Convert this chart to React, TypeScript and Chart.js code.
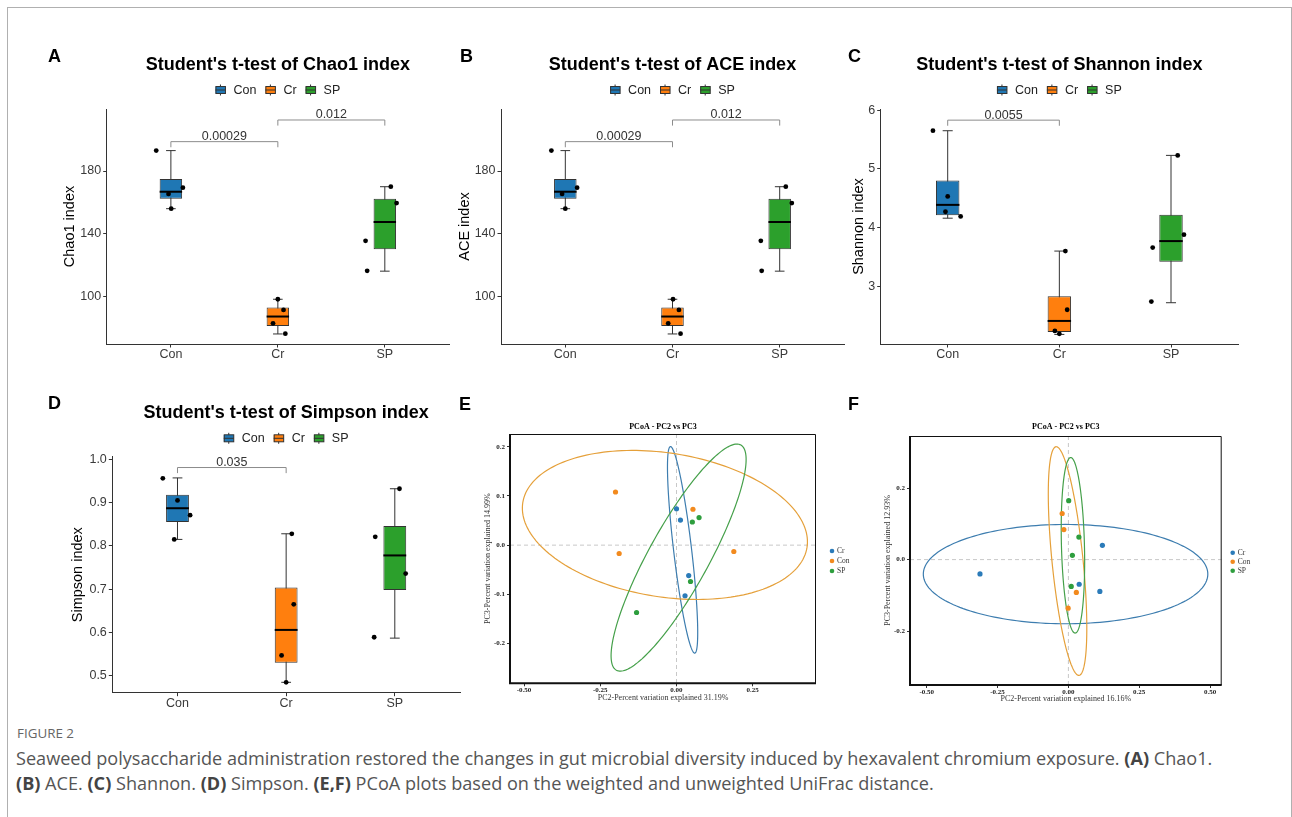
import React, { useEffect, useRef } from 'react';
import { Chart, registerables } from 'chart.js';

Chart.register(...registerables);

const SANS = '"Liberation Sans", Arial, Helvetica, sans-serif';
const SERIF = '"Liberation Serif", "Times New Roman", serif';

// ---------- Box-plot panels (A-D) ----------
const groupNames = ['Con', 'Cr', 'SP'];
const boxFills = ['#1F77B4', '#FF7F0E', '#2CA02C'];

// A: Chao1
const chaoQ1 = [162.4, 81.3, 130.2];
const chaoMedian = [166.8, 87.3, 147.5];
const chaoQ3 = [174.9, 93.0, 162.4];
const chaoLow = [156.0, 76.2, 116.2];
const chaoHigh = [193.0, 98.3, 170.0];
const chaoCon = [193.0, 165.4, 169.4, 156.0];
const chaoCr = [98.3, 91.5, 83.0, 76.4];
const chaoSP = [170.0, 159.6, 135.5, 116.4];
const chaoJitCon = [-0.137, -0.022, 0.112, 0.003];
const chaoJitCr = [0.0, 0.053, -0.045, 0.07];
const chaoJitSP = [0.056, 0.11, -0.18, -0.165];
const chaoTicks = [100, 140, 180];
const chaoRange = [69.8, 219.5];
const chaoPairs = [[0, 1], [1, 2]];
const chaoPairY = [198.7, 212.5];
const chaoPairLabels = ['0.00029', '0.012'];

// B: ACE
const aceQ1 = [162.4, 81.3, 130.2];
const aceMedian = [166.8, 87.3, 147.5];
const aceQ3 = [174.9, 93.0, 162.4];
const aceLow = [156.0, 76.2, 116.2];
const aceHigh = [193.0, 98.3, 170.0];
const aceCon = [193.0, 165.4, 169.4, 156.0];
const aceCr = [98.3, 91.5, 83.0, 76.4];
const aceSP = [170.0, 159.6, 135.5, 116.4];
const aceJitCon = [-0.13, -0.03, 0.11, 0.0];
const aceJitCr = [0.005, 0.06, -0.04, 0.075];
const aceJitSP = [0.057, 0.113, -0.176, -0.168];
const aceTicks = [100, 140, 180];
const aceRange = [69.8, 219.5];
const acePairs = [[0, 1], [1, 2]];
const acePairY = [198.7, 212.5];
const acePairLabels = ['0.00029', '0.012'];

// C: Shannon
const shanQ1 = [4.21, 2.22, 3.42];
const shanMedian = [4.387, 2.41, 3.77];
const shanQ3 = [4.8, 2.83, 4.22];
const shanLow = [4.16, 2.18, 2.72];
const shanHigh = [5.65, 3.6, 5.23];
const shanCon = [5.65, 4.53, 4.27, 4.19];
const shanCr = [3.6, 2.6, 2.24, 2.19];
const shanSP = [5.23, 3.88, 3.66, 2.74];
const shanJitCon = [-0.132, 0.0, -0.02, 0.116];
const shanJitCr = [0.054, 0.07, -0.04, 0.0];
const shanJitSP = [0.06, 0.116, -0.164, -0.176];
const shanTicks = [3, 4, 5, 6];
const shanRange = [2.017, 6.02];
const shanPairs = [[0, 1]];
const shanPairY = [5.83];
const shanPairLabels = ['0.0055'];

// D: Simpson
const simpQ1 = [0.855, 0.53, 0.698];
const simpMedian = [0.887, 0.606, 0.778];
const simpQ3 = [0.918, 0.704, 0.846];
const simpLow = [0.815, 0.485, 0.587];
const simpHigh = [0.957, 0.828, 0.932];
const simpCon = [0.956, 0.905, 0.871, 0.815];
const simpCr = [0.828, 0.665, 0.547, 0.485];
const simpSP = [0.932, 0.736, 0.821, 0.589];
const simpJitCon = [-0.135, 0.0, 0.116, -0.03];
const simpJitCr = [0.052, 0.07, -0.042, 0.0];
const simpJitSP = [0.043, 0.1, -0.18, -0.19];
const simpTicks = [0.5, 0.6, 0.7, 0.8, 0.9, 1.0];
const simpRange = [0.461, 1.006];
const simpPairs = [[0, 1]];
const simpPairY = [0.981];
const simpPairLabels = ['0.035'];

// ---------- PCoA panels (E, F) ----------
const pcoaGroups = ['Cr', 'Con', 'SP'];
const pcoaPointColors = ['#2B7BB9', '#F28A1E', '#2E9E3E'];
const pcoaRingColors = ['#3D7DAF', '#E5A03A', '#45A04A'];

// E
const eCrX = [0.0, 0.013, 0.04, 0.028];
const eCrY = [0.074, 0.051, -0.062, -0.103];
const eConX = [-0.2, -0.188, 0.054, 0.188];
const eConY = [0.108, -0.017, 0.073, -0.013];
const eSpX = [0.052, 0.074, 0.046, -0.131];
const eSpY = [0.047, 0.056, -0.074, -0.137];
const eEllCx = [0.02, -0.038, 0.0069];
const eEllCy = [-0.0096, 0.041, -0.0254];
const eEllUx = [-0.04, 0.466, 0.204];
const eEllUy = [0.21, -0.0457, 0.229];
const eEllVx = [0.0293, 0.0368, 0.0861];
const eEllVy = [0.00215, 0.1445, -0.0295];
const eXTicks = [-0.5, -0.25, 0, 0.25];
const eYTicks = [-0.2, -0.1, 0, 0.1, 0.2];
const eXRange = [-0.546, 0.4575];
const eYRange = [-0.281, 0.226];

// F
const fCrX = [-0.312, 0.12, 0.111, 0.038];
const fCrY = [-0.04, 0.04, -0.089, -0.069];
const fConX = [-0.022, -0.016, 0.028, -0.001];
const fConY = [0.129, 0.084, -0.092, -0.136];
const fSpX = [0.001, 0.037, 0.014, 0.01];
const fSpY = [0.165, 0.063, 0.012, -0.075];
const fEllCx = [-0.01, -0.003, 0.016];
const fEllCy = [-0.0406, -0.004, 0.04];
const fEllUx = [0.502, -0.0406, -0.0078];
const fEllUy = [0.0, 0.32, 0.2457];
const fEllVx = [0.0, 0.0545, 0.0406];
const fEllVy = [0.139, 0.00434, 0.0];
const fXTicks = [-0.5, -0.25, 0, 0.25, 0.5];
const fYTicks = [-0.2, 0, 0.2];
const fXRange = [-0.559, 0.541];
const fYRange = [-0.351, 0.346];

// ---------- Specs ----------
const boxSpecs: any[] = [
  {
    letter: 'A', title: "Student's t-test of Chao1 index", yTitle: 'Chao1 index',
    q1: chaoQ1, med: chaoMedian, q3: chaoQ3, lo: chaoLow, hi: chaoHigh,
    pts: [chaoCon, chaoCr, chaoSP], jit: [chaoJitCon, chaoJitCr, chaoJitSP],
    ticks: chaoTicks, range: chaoRange, pairs: chaoPairs, pairY: chaoPairY, pairLabels: chaoPairLabels,
    fmt: (v: number) => String(v),
  },
  {
    letter: 'B', title: "Student's t-test of ACE index", yTitle: 'ACE index',
    q1: aceQ1, med: aceMedian, q3: aceQ3, lo: aceLow, hi: aceHigh,
    pts: [aceCon, aceCr, aceSP], jit: [aceJitCon, aceJitCr, aceJitSP],
    ticks: aceTicks, range: aceRange, pairs: acePairs, pairY: acePairY, pairLabels: acePairLabels,
    fmt: (v: number) => String(v),
  },
  {
    letter: 'C', title: "Student's t-test of Shannon index", yTitle: 'Shannon index',
    q1: shanQ1, med: shanMedian, q3: shanQ3, lo: shanLow, hi: shanHigh,
    pts: [shanCon, shanCr, shanSP], jit: [shanJitCon, shanJitCr, shanJitSP],
    ticks: shanTicks, range: shanRange, pairs: shanPairs, pairY: shanPairY, pairLabels: shanPairLabels,
    fmt: (v: number) => String(v),
  },
  {
    letter: 'D', title: "Student's t-test of Simpson index", yTitle: 'Simpson index',
    q1: simpQ1, med: simpMedian, q3: simpQ3, lo: simpLow, hi: simpHigh,
    pts: [simpCon, simpCr, simpSP], jit: [simpJitCon, simpJitCr, simpJitSP],
    ticks: simpTicks, range: simpRange, pairs: simpPairs, pairY: simpPairY, pairLabels: simpPairLabels,
    fmt: (v: number) => v.toFixed(1),
  },
];

const boxLayouts = [
  { x: 30, y: 40, w: 430, h: 340, axisW: 76.7, axisH: 36, padTop: 69, padRight: 11, yTitlePad: 31.3, letterX: 18, letterY: 17, titleY: 25, legendY: 50 },
  { x: 440, y: 40, w: 420, h: 340, axisW: 61, axisH: 36, padTop: 69, padRight: 16, yTitlePad: 16.3, letterX: 20, letterY: 17, titleY: 25, legendY: 50 },
  { x: 840, y: 40, w: 420, h: 340, axisW: 40.7, axisH: 36, padTop: 69, padRight: 22, yTitlePad: 10.3, letterX: 8, letterY: 17, titleY: 25, legendY: 50 },
  { x: 30, y: 390, w: 440, h: 325, axisW: 82.3, axisH: 22.3, padTop: 66.7, padRight: 10, yTitlePad: 39, letterX: 18, letterY: 14, titleY: 22.7, legendY: 48.3 },
];

const pcoaSpecs: any[] = [
  {
    letter: 'E', xs: [eCrX, eConX, eSpX], ys: [eCrY, eConY, eSpY],
    ell: { cx: eEllCx, cy: eEllCy, ux: eEllUx, uy: eEllUy, vx: eEllVx, vy: eEllVy },
    xTicks: eXTicks, yTicks: eYTicks, xRange: eXRange, yRange: eYRange,
    xTitle: 'PC2-Percent variation explained 31.19%', yTitle: 'PC3-Percent variation explained 14.99%',
  },
  {
    letter: 'F', xs: [fCrX, fConX, fSpX], ys: [fCrY, fConY, fSpY],
    ell: { cx: fEllCx, cy: fEllCy, ux: fEllUx, uy: fEllUy, vx: fEllVx, vy: fEllVy },
    xTicks: fXTicks, yTicks: fYTicks, xRange: fXRange, yRange: fYRange,
    xTitle: 'PC2-Percent variation explained 16.16%', yTitle: 'PC3-Percent variation explained 12.93%',
  },
];

const pcoaLayouts = [
  { x: 455, y: 395, w: 405, h: 318, axisW: 55, axisH: 29.7, padTop: 39, padRight: 44, yTitlePad: 28.2, xTitlePad: 10.5, letterX: 4, letterY: 10, titleY: 32.3, legendX: 377, legendY: [156, 166, 176] },
  { x: 845, y: 395, w: 447, h: 318, axisW: 65, axisH: 28, padTop: 41, padRight: 70.3, yTitlePad: 38.2, xTitlePad: 9.2, letterX: 3, letterY: 10, titleY: 32.3, legendX: 387.7, legendY: [157.7, 166.7, 175.7] },
];

// ---------- Box chart ----------
function BoxChart({ spec, lay }: { spec: any; lay: any }) {
  const ref = useRef<HTMLCanvasElement>(null);
  useEffect(() => {
    const canvas = ref.current!;
    const points: any[] = [];
    spec.pts.forEach((arr: number[], gi: number) => {
      arr.forEach((v: number, k: number) => points.push({ x: gi + spec.jit[gi][k], y: v }));
    });

    const extras = {
      id: 'boxExtras' + spec.letter,
      beforeDatasetsDraw(chart: any) {
        const { ctx } = chart;
        const xs = chart.scales.x, ys = chart.scales.y;
        ctx.save();
        ctx.strokeStyle = '#333';
        ctx.lineWidth = 1;
        spec.lo.forEach((lo: number, i: number) => {
          const px = xs.getPixelForValue(i);
          const yl = ys.getPixelForValue(lo), yh = ys.getPixelForValue(spec.hi[i]);
          const c0 = xs.getPixelForValue(i - 0.045), c1 = xs.getPixelForValue(i + 0.045);
          ctx.beginPath();
          ctx.moveTo(px, yl); ctx.lineTo(px, yh);
          ctx.moveTo(c0, yl); ctx.lineTo(c1, yl);
          ctx.moveTo(c0, yh); ctx.lineTo(c1, yh);
          ctx.stroke();
        });
        ctx.restore();
      },
      afterDatasetDraw(chart: any, args: any) {
        if (args.index !== 0) return;
        const { ctx } = chart;
        const ys = chart.scales.y;
        const meta = chart.getDatasetMeta(0);
        ctx.save();
        ctx.strokeStyle = '#000';
        ctx.lineWidth = 2;
        meta.data.forEach((el: any, i: number) => {
          const y = ys.getPixelForValue(spec.med[i]);
          ctx.beginPath();
          ctx.moveTo(el.x - el.width / 2, y);
          ctx.lineTo(el.x + el.width / 2, y);
          ctx.stroke();
        });
        ctx.restore();
      },
      afterDraw(chart: any) {
        const { ctx, chartArea } = chart;
        const xs = chart.scales.x, ys = chart.scales.y;
        ctx.save();
        // brackets
        const drop = (ys.getValueForPixel(0) - ys.getValueForPixel(5.6));
        spec.pairs.forEach((p: number[], k: number) => {
          const x0 = xs.getPixelForValue(p[0]), x1 = xs.getPixelForValue(p[1]);
          const y = ys.getPixelForValue(spec.pairY[k]);
          const yd = ys.getPixelForValue(spec.pairY[k] - drop);
          ctx.strokeStyle = '#8C8C8C';
          ctx.lineWidth = 1;
          ctx.beginPath();
          ctx.moveTo(x0, yd); ctx.lineTo(x0, y); ctx.lineTo(x1, y); ctx.lineTo(x1, yd);
          ctx.stroke();
          ctx.fillStyle = '#333';
          ctx.font = `12.5px ${SANS}`;
          ctx.textAlign = 'center';
          ctx.textBaseline = 'alphabetic';
          ctx.fillText(spec.pairLabels[k], (x0 + x1) / 2, y - 1.5);
        });
        const cx = (chartArea.left + chartArea.right) / 2;
        // title
        ctx.fillStyle = '#000';
        ctx.font = `bold 18px ${SANS}`;
        ctx.textAlign = 'center';
        ctx.textBaseline = 'middle';
        ctx.fillText(spec.title, cx, lay.titleY);
        // letter
        ctx.textAlign = 'left';
        ctx.fillText(spec.letter, lay.letterX, lay.letterY);
        // legend
        ctx.font = `12.5px ${SANS}`;
        const widths = groupNames.map((n) => ctx.measureText(n).width);
        const total = widths.reduce((a, b) => a + b, 0) + groupNames.length * 18 + (groupNames.length - 1) * 9;
        let x = cx - total / 2;
        const ly = lay.legendY;
        groupNames.forEach((n, i) => {
          ctx.strokeStyle = '#333';
          ctx.lineWidth = 1;
          ctx.beginPath();
          ctx.moveTo(x + 5, ly - 5.5); ctx.lineTo(x + 5, ly + 5.5);
          ctx.stroke();
          ctx.fillStyle = boxFills[i];
          ctx.fillRect(x, ly - 3.5, 10, 7);
          ctx.strokeRect(x + 0.5, ly - 3.5, 9.5, 7);
          ctx.beginPath();
          ctx.moveTo(x, ly); ctx.lineTo(x + 10, ly);
          ctx.stroke();
          ctx.fillStyle = '#222';
          ctx.textAlign = 'left';
          ctx.textBaseline = 'middle';
          ctx.fillText(n, x + 18, ly + 0.5);
          x += 18 + widths[i] + 9;
        });
        ctx.restore();
      },
    };

    const chart = new Chart(canvas, {
      type: 'bar',
      data: {
        datasets: [
          {
            type: 'bar',
            data: spec.q1.map((q: number, i: number) => ({ x: i, y: [q, spec.q3[i]] })),
            backgroundColor: boxFills,
            borderColor: '#333',
            borderWidth: 1,
            borderSkipped: false,
            barPercentage: 0.21,
            categoryPercentage: 1,
            order: 1,
          } as any,
          {
            type: 'scatter',
            data: points,
            pointRadius: 2.4,
            pointBackgroundColor: '#000',
            pointBorderWidth: 0,
            order: 0,
          } as any,
        ],
      },
      options: {
        responsive: false,
        animation: false,
        events: [],
        layout: { padding: { left: 0, top: lay.padTop, right: lay.padRight, bottom: 0 } },
        plugins: { legend: { display: false }, tooltip: { enabled: false }, title: { display: false } },
        scales: {
          x: {
            type: 'linear',
            min: -0.6,
            max: 2.6,
            offset: false,
            afterBuildTicks: (s: any) => { s.ticks = [0, 1, 2].map((v) => ({ value: v })); },
            afterFit: (s: any) => { s.height = lay.axisH; },
            ticks: {
              callback: (v: any) => groupNames[v],
              color: '#3A3A3A',
              font: { family: SANS, size: 12.5 },
              padding: 0,
              maxRotation: 0,
              autoSkip: false,
            },
            grid: { offset: false, drawOnChartArea: false, drawTicks: true, tickLength: 3.5, tickColor: '#333', color: '#333' },
            border: { display: true, color: '#333', width: 1 },
          },
          y: {
            type: 'linear',
            min: spec.range[0],
            max: spec.range[1],
            afterBuildTicks: (s: any) => { s.ticks = spec.ticks.map((v: number) => ({ value: v })); },
            afterFit: (s: any) => { s.width = lay.axisW; },
            ticks: {
              callback: (v: any) => spec.fmt(v),
              color: '#3A3A3A',
              font: { family: SANS, size: 12.5 },
              padding: 2,
            },
            title: {
              display: true,
              text: spec.yTitle,
              color: '#000',
              font: { family: SANS, size: 14.5 },
              padding: { top: lay.yTitlePad, bottom: 0 },
            },
            grid: { offset: false, drawOnChartArea: false, drawTicks: true, tickLength: 3.5, tickColor: '#333', color: '#333' },
            border: { display: true, color: '#333', width: 1 },
          },
        },
      } as any,
      plugins: [extras],
    });
    return () => chart.destroy();
  }, []);
  return (
    <canvas
      ref={ref}
      width={lay.w}
      height={lay.h}
      style={{ position: 'absolute', left: lay.x, top: lay.y, width: lay.w, height: lay.h }}
    />
  );
}

// ---------- PCoA chart ----------
function PcoaChart({ spec, lay }: { spec: any; lay: any }) {
  const ref = useRef<HTMLCanvasElement>(null);
  useEffect(() => {
    const canvas = ref.current!;
    const extras = {
      id: 'pcoaExtras' + spec.letter,
      beforeDatasetsDraw(chart: any) {
        const { ctx, chartArea } = chart;
        const xs = chart.scales.x, ys = chart.scales.y;
        ctx.save();
        ctx.beginPath();
        ctx.rect(chartArea.left, chartArea.top, chartArea.right - chartArea.left, chartArea.bottom - chartArea.top);
        ctx.clip();
        // zero reference lines
        ctx.strokeStyle = '#C8C8C8';
        ctx.lineWidth = 1;
        ctx.setLineDash([4, 3]);
        const x0 = xs.getPixelForValue(0), y0 = ys.getPixelForValue(0);
        ctx.beginPath();
        ctx.moveTo(x0, chartArea.top); ctx.lineTo(x0, chartArea.bottom);
        ctx.moveTo(chartArea.left, y0); ctx.lineTo(chartArea.right, y0);
        ctx.stroke();
        ctx.setLineDash([]);
        // confidence ellipses
        const e = spec.ell;
        e.cx.forEach((cxv: number, gi: number) => {
          ctx.strokeStyle = pcoaRingColors[gi];
          ctx.lineWidth = 1.2;
          ctx.beginPath();
          const n = 180;
          for (let k = 0; k <= n; k++) {
            const t = (k / n) * Math.PI * 2;
            const dx = cxv + e.ux[gi] * Math.cos(t) + e.vx[gi] * Math.sin(t);
            const dy = e.cy[gi] + e.uy[gi] * Math.cos(t) + e.vy[gi] * Math.sin(t);
            const px = xs.getPixelForValue(dx), py = ys.getPixelForValue(dy);
            if (k === 0) ctx.moveTo(px, py); else ctx.lineTo(px, py);
          }
          ctx.closePath();
          ctx.stroke();
        });
        ctx.restore();
      },
      afterDraw(chart: any) {
        const { ctx, chartArea } = chart;
        ctx.save();
        // frame
        ctx.strokeStyle = '#111';
        ctx.lineWidth = 1;
        ctx.beginPath();
        ctx.moveTo(chartArea.left, chartArea.top + 0.5);
        ctx.lineTo(chartArea.right - 0.5, chartArea.top + 0.5);
        ctx.lineTo(chartArea.right - 0.5, chartArea.bottom);
        ctx.stroke();
        ctx.lineWidth = 2;
        ctx.beginPath();
        ctx.moveTo(chartArea.left, chartArea.top);
        ctx.lineTo(chartArea.left, chartArea.bottom);
        ctx.lineTo(chartArea.right, chartArea.bottom);
        ctx.stroke();
        // title
        const cx = (chartArea.left + chartArea.right) / 2;
        ctx.fillStyle = '#000';
        ctx.font = `bold 8px ${SERIF}`;
        ctx.textAlign = 'center';
        ctx.textBaseline = 'middle';
        ctx.fillText('PCoA - PC2 vs PC3', cx, lay.titleY);
        // letter
        ctx.font = `bold 18px ${SANS}`;
        ctx.textAlign = 'left';
        ctx.fillText(spec.letter, lay.letterX, lay.letterY);
        // legend
        ctx.font = `7.5px ${SERIF}`;
        pcoaGroups.forEach((g, gi) => {
          const y = lay.legendY[gi];
          ctx.fillStyle = pcoaPointColors[gi];
          ctx.beginPath();
          ctx.arc(lay.legendX, y, 2.3, 0, Math.PI * 2);
          ctx.fill();
          ctx.fillStyle = '#333';
          ctx.textAlign = 'left';
          ctx.fillText(g, lay.legendX + 5, y + 0.5);
        });
        ctx.restore();
      },
    };

    const chart = new Chart(canvas, {
      type: 'scatter',
      data: {
        datasets: pcoaGroups.map((g, gi) => ({
          label: g,
          data: spec.xs[gi].map((x: number, k: number) => ({ x, y: spec.ys[gi][k] })),
          pointRadius: 2.6,
          pointBackgroundColor: pcoaPointColors[gi],
          pointBorderWidth: 0,
        })),
      },
      options: {
        responsive: false,
        animation: false,
        events: [],
        layout: { padding: { left: 0, top: lay.padTop, right: lay.padRight, bottom: 0 } },
        plugins: { legend: { display: false }, tooltip: { enabled: false }, title: { display: false } },
        scales: {
          x: {
            type: 'linear',
            min: spec.xRange[0],
            max: spec.xRange[1],
            afterBuildTicks: (s: any) => { s.ticks = spec.xTicks.map((v: number) => ({ value: v })); },
            afterFit: (s: any) => { s.height = lay.axisH; },
            ticks: {
              callback: (v: any) => Number(v).toFixed(2),
              color: '#222',
              font: { family: SERIF, size: 7, weight: 'bold' },
              padding: 0,
              maxRotation: 0,
              autoSkip: false,
            },
            title: {
              display: true,
              text: spec.xTitle,
              color: '#333',
              font: { family: SERIF, size: 8 },
              padding: { top: 0, bottom: lay.xTitlePad },
            },
            grid: { drawOnChartArea: false, drawTicks: true, tickLength: 3, tickColor: '#333', color: '#333' },
            border: { display: false },
          },
          y: {
            type: 'linear',
            min: spec.yRange[0],
            max: spec.yRange[1],
            afterBuildTicks: (s: any) => { s.ticks = spec.yTicks.map((v: number) => ({ value: v })); },
            afterFit: (s: any) => { s.width = lay.axisW; },
            ticks: {
              callback: (v: any) => Number(v).toFixed(1),
              color: '#222',
              font: { family: SERIF, size: 7, weight: 'bold' },
              padding: 2,
            },
            title: {
              display: true,
              text: spec.yTitle,
              color: '#333',
              font: { family: SERIF, size: 8 },
              padding: { top: lay.yTitlePad, bottom: 0 },
            },
            grid: { drawOnChartArea: false, drawTicks: true, tickLength: 3, tickColor: '#333', color: '#333' },
            border: { display: false },
          },
        },
      } as any,
      plugins: [extras],
    });
    return () => chart.destroy();
  }, []);
  return (
    <canvas
      ref={ref}
      width={lay.w}
      height={lay.h}
      style={{ position: 'absolute', left: lay.x, top: lay.y, width: lay.w, height: lay.h }}
    />
  );
}

const captionFont = '"Open Sans", "Noto Sans", sans-serif';

export default function App() {
  return (
    <div style={{ position: 'absolute', left: 0, top: 0, width: 1292, height: 817, background: '#fff', overflow: 'hidden' }}>
      <div style={{ position: 'absolute', left: 7, top: 7, width: 1285, height: 1, background: '#B0B0B0' }} />
      <div style={{ position: 'absolute', left: 7, top: 7, width: 1, height: 810, background: '#B0B0B0' }} />
      <div style={{ position: 'absolute', left: 1291, top: 7, width: 1, height: 810, background: '#B0B0B0' }} />
      {boxSpecs.map((s, i) => (
        <BoxChart key={s.letter} spec={s} lay={boxLayouts[i]} />
      ))}
      {pcoaSpecs.map((s, i) => (
        <PcoaChart key={s.letter} spec={s} lay={pcoaLayouts[i]} />
      ))}
      <div style={{ position: 'absolute', left: 17, top: 724, fontFamily: captionFont, fontSize: 13.4, color: '#666', whiteSpace: 'nowrap', lineHeight: '18px' }}>
        FIGURE 2
      </div>
      <div style={{ position: 'absolute', left: 16, top: 746, fontFamily: captionFont, fontSize: 18.1, color: '#555', whiteSpace: 'nowrap', lineHeight: '25px' }}>
        <div>
          Seaweed polysaccharide administration restored the changes in gut microbial diversity induced by hexavalent chromium exposure. <b style={{ color: '#444' }}>(A)</b> Chao1.
        </div>
        <div>
          <b style={{ color: '#444' }}>(B)</b> ACE. <b style={{ color: '#444' }}>(C)</b> Shannon. <b style={{ color: '#444' }}>(D)</b> Simpson. <b style={{ color: '#444' }}>(E,F)</b> PCoA plots based on the weighted and unweighted UniFrac distance.
        </div>
      </div>
    </div>
  );
}
